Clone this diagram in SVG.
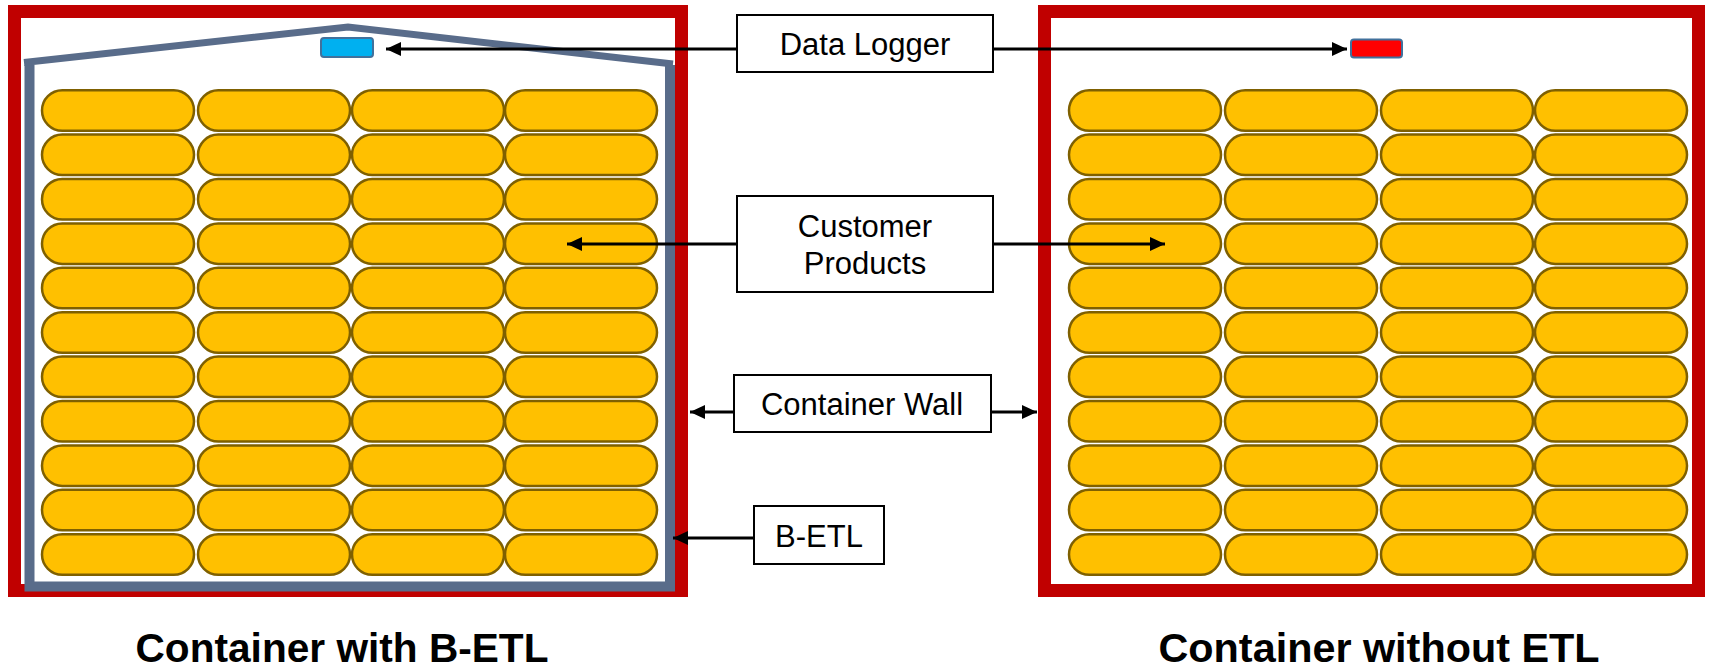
<svg xmlns="http://www.w3.org/2000/svg" width="1719" height="668" viewBox="0 0 1719 668">
<style>
.wall{fill:none;stroke:#C00000;stroke-width:13}
.etl{fill:none;stroke:#596C8A;stroke-width:10;stroke-linecap:butt}
.roof{fill:none;stroke:#596C8A;stroke-width:7}
.pill{fill:#FFC000;stroke:#7F6000;stroke-width:2.5}
.box{fill:#FFFFFF;stroke:#000000;stroke-width:2}
.lbl{font-family:"Liberation Sans",Arial,sans-serif;font-size:31px;fill:#000;text-anchor:middle}
.title{font-family:"Liberation Sans",Arial,sans-serif;font-size:40px;font-weight:bold;fill:#000;text-anchor:middle}
.conn{fill:none;stroke:#000;stroke-width:3}
</style>
<defs>
<marker id="ah" markerUnits="userSpaceOnUse" markerWidth="16" markerHeight="16" refX="15" refY="7" orient="auto"><path d="M0,0 L15,7 L0,14 z" fill="#000"/></marker>
<g id="row4">
<rect class="pill" x="0" y="0" width="152" height="40.5" rx="20.25"/>
</g>
</defs>
<g id="container-with-betl">
<rect class="wall" x="14.5" y="11.5" width="667" height="579"/>
<path class="etl" d="M29.5,65 V586.5 H670 V65"/>
<path class="roof" d="M24,62.5 L348,27 L673,64"/>
<rect x="321" y="38" width="52" height="19" rx="3" fill="#00B0F0" stroke="#41719C" stroke-width="2"/>
</g>
<g id="container-without-etl">
<rect class="wall" x="1044.5" y="11.5" width="654" height="579"/>
<rect x="1351" y="39.5" width="51" height="18" rx="3" fill="#FF0000" stroke="#41719C" stroke-width="2"/>
</g>
<g id="products-left">
<use href="#row4" x="42" y="90.2"/><use href="#row4" x="198" y="90.2"/><use href="#row4" x="352" y="90.2"/><use href="#row4" x="505" y="90.2"/>
<use href="#row4" x="42" y="134.6"/><use href="#row4" x="198" y="134.6"/><use href="#row4" x="352" y="134.6"/><use href="#row4" x="505" y="134.6"/>
<use href="#row4" x="42" y="179"/><use href="#row4" x="198" y="179"/><use href="#row4" x="352" y="179"/><use href="#row4" x="505" y="179"/>
<use href="#row4" x="42" y="223.4"/><use href="#row4" x="198" y="223.4"/><use href="#row4" x="352" y="223.4"/><use href="#row4" x="505" y="223.4"/>
<use href="#row4" x="42" y="267.8"/><use href="#row4" x="198" y="267.8"/><use href="#row4" x="352" y="267.8"/><use href="#row4" x="505" y="267.8"/>
<use href="#row4" x="42" y="312.2"/><use href="#row4" x="198" y="312.2"/><use href="#row4" x="352" y="312.2"/><use href="#row4" x="505" y="312.2"/>
<use href="#row4" x="42" y="356.6"/><use href="#row4" x="198" y="356.6"/><use href="#row4" x="352" y="356.6"/><use href="#row4" x="505" y="356.6"/>
<use href="#row4" x="42" y="401"/><use href="#row4" x="198" y="401"/><use href="#row4" x="352" y="401"/><use href="#row4" x="505" y="401"/>
<use href="#row4" x="42" y="445.4"/><use href="#row4" x="198" y="445.4"/><use href="#row4" x="352" y="445.4"/><use href="#row4" x="505" y="445.4"/>
<use href="#row4" x="42" y="489.8"/><use href="#row4" x="198" y="489.8"/><use href="#row4" x="352" y="489.8"/><use href="#row4" x="505" y="489.8"/>
<use href="#row4" x="42" y="534.2"/><use href="#row4" x="198" y="534.2"/><use href="#row4" x="352" y="534.2"/><use href="#row4" x="505" y="534.2"/>
</g>
<g id="products-right">
<use href="#row4" x="1069" y="90.2"/><use href="#row4" x="1225" y="90.2"/><use href="#row4" x="1381" y="90.2"/><use href="#row4" x="1535" y="90.2"/>
<use href="#row4" x="1069" y="134.6"/><use href="#row4" x="1225" y="134.6"/><use href="#row4" x="1381" y="134.6"/><use href="#row4" x="1535" y="134.6"/>
<use href="#row4" x="1069" y="179"/><use href="#row4" x="1225" y="179"/><use href="#row4" x="1381" y="179"/><use href="#row4" x="1535" y="179"/>
<use href="#row4" x="1069" y="223.4"/><use href="#row4" x="1225" y="223.4"/><use href="#row4" x="1381" y="223.4"/><use href="#row4" x="1535" y="223.4"/>
<use href="#row4" x="1069" y="267.8"/><use href="#row4" x="1225" y="267.8"/><use href="#row4" x="1381" y="267.8"/><use href="#row4" x="1535" y="267.8"/>
<use href="#row4" x="1069" y="312.2"/><use href="#row4" x="1225" y="312.2"/><use href="#row4" x="1381" y="312.2"/><use href="#row4" x="1535" y="312.2"/>
<use href="#row4" x="1069" y="356.6"/><use href="#row4" x="1225" y="356.6"/><use href="#row4" x="1381" y="356.6"/><use href="#row4" x="1535" y="356.6"/>
<use href="#row4" x="1069" y="401"/><use href="#row4" x="1225" y="401"/><use href="#row4" x="1381" y="401"/><use href="#row4" x="1535" y="401"/>
<use href="#row4" x="1069" y="445.4"/><use href="#row4" x="1225" y="445.4"/><use href="#row4" x="1381" y="445.4"/><use href="#row4" x="1535" y="445.4"/>
<use href="#row4" x="1069" y="489.8"/><use href="#row4" x="1225" y="489.8"/><use href="#row4" x="1381" y="489.8"/><use href="#row4" x="1535" y="489.8"/>
<use href="#row4" x="1069" y="534.2"/><use href="#row4" x="1225" y="534.2"/><use href="#row4" x="1381" y="534.2"/><use href="#row4" x="1535" y="534.2"/>
</g>
<g id="connectors">
<line class="conn" x1="737" y1="49" x2="386" y2="49" marker-end="url(#ah)"/>
<line class="conn" x1="993" y1="49" x2="1347" y2="49" marker-end="url(#ah)"/>
<line class="conn" x1="737" y1="244" x2="567" y2="244" marker-end="url(#ah)"/>
<line class="conn" x1="993" y1="244" x2="1165" y2="244" marker-end="url(#ah)"/>
<line class="conn" x1="734" y1="412" x2="690" y2="412" marker-end="url(#ah)"/>
<line class="conn" x1="991" y1="412" x2="1037" y2="412" marker-end="url(#ah)"/>
<line class="conn" x1="754" y1="538" x2="673" y2="538" marker-end="url(#ah)"/>
</g>
<g id="label-data-logger">
<rect class="box" x="737" y="15" width="256" height="57"/>
<text class="lbl" x="865" y="55">Data Logger</text>
</g>
<g id="label-customer-products">
<rect class="box" x="737" y="196" width="256" height="96"/>
<text class="lbl" x="865" y="237">Customer</text>
<text class="lbl" x="865" y="274">Products</text>
</g>
<g id="label-container-wall">
<rect class="box" x="734" y="375" width="257" height="57"/>
<text class="lbl" x="862" y="415">Container Wall</text>
</g>
<g id="label-betl">
<rect class="box" x="754" y="506" width="130" height="58"/>
<text class="lbl" x="819" y="547">B-ETL</text>
</g>
<g id="title-left">
<text class="title" x="342" y="662" textLength="413" lengthAdjust="spacingAndGlyphs">Container with B-ETL</text>
</g>
<g id="title-right">
<text class="title" x="1379" y="662" textLength="441" lengthAdjust="spacingAndGlyphs">Container without ETL</text>
</g>
</svg>
